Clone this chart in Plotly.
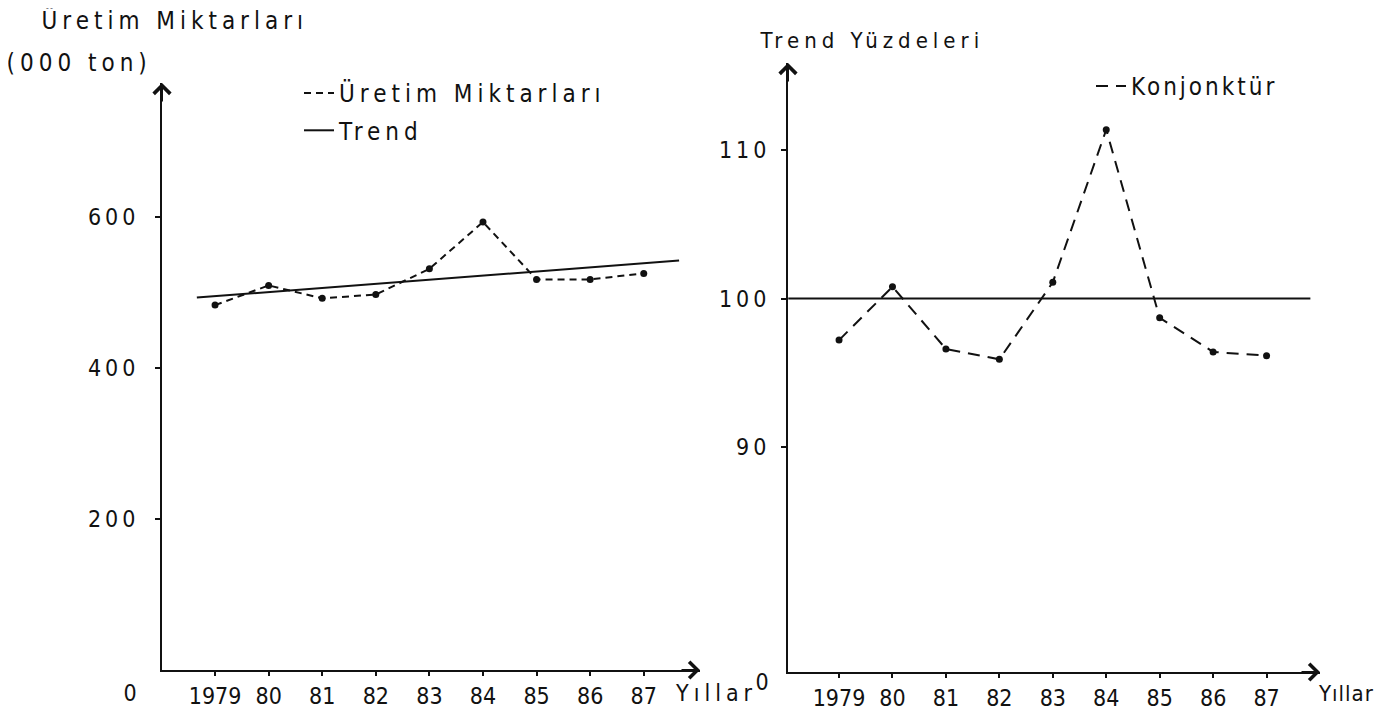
import plotly.graph_objects as go

# ---------------- data ----------------
years = [1979, 1980, 1981, 1982, 1983, 1984, 1985, 1986, 1987]
year_labels = ["1979", "80", "81", "82", "83", "84", "85", "86", "87"]

uretim = [483, 509, 492, 497, 531, 593, 517, 517, 525]   # 000 ton
trend_x = [1978.66, 1987.66]
trend_y = [493, 542]

konjonktur = [97.2, 100.8, 96.6, 95.9, 101.1, 111.4, 98.7, 96.4, 96.15]  # % of trend
base_x = [1978.05, 1987.82]
base_y = [100, 100]

left_yticks = [200, 400, 600]
right_yticks = [90, 100, 110]

# ---------------- layout helpers ----------------
# the page body has an 8px margin, so the figure is placed 8px in
OFF = 8
W, H = 1385 - OFF, 721 - OFF
FONT = "Liberation Sans Narrow, DejaVu Sans Condensed, Roboto Condensed, Roboto, sans-serif"
BLACK = "#111111"


def px(x):
    return (x - OFF) / W


def py(y):
    return 1 - (y - OFF) / H


L_XR = [1978.01, 1988.05]
L_YR = [0, 777]
R_XR = [1978.045, 1988.0]
R_YR = [74.8, 115.9]

fig = go.Figure()

# left chart
fig.add_trace(go.Scatter(
    x=years, y=uretim, mode="lines+markers", xaxis="x", yaxis="y",
    line=dict(color=BLACK, width=2, dash="7px,5px"),
    marker=dict(color=BLACK, size=7), showlegend=False))
fig.add_trace(go.Scatter(
    x=trend_x, y=trend_y, mode="lines", xaxis="x", yaxis="y",
    line=dict(color=BLACK, width=2), showlegend=False))
# legend entries (left)
fig.add_trace(go.Scatter(
    x=[None], y=[None], mode="lines", name="Üretim Miktarları", xaxis="x", yaxis="y",
    line=dict(color=BLACK, width=2, dash="7px,5px"), legend="legend", legendgroup="a"))
fig.add_trace(go.Scatter(
    x=[None], y=[None], mode="lines", name="Trend", xaxis="x", yaxis="y",
    line=dict(color=BLACK, width=2), legend="legend", legendgroup="b"))

# right chart
fig.add_trace(go.Scatter(
    x=years, y=konjonktur, mode="lines+markers", xaxis="x2", yaxis="y2",
    line=dict(color=BLACK, width=2, dash="12px,8px"),
    marker=dict(color=BLACK, size=7), showlegend=False))
fig.add_trace(go.Scatter(
    x=base_x, y=base_y, mode="lines", xaxis="x2", yaxis="y2",
    line=dict(color=BLACK, width=2), showlegend=False))
fig.add_trace(go.Scatter(
    x=[None], y=[None], mode="lines", name="Konjonktür", xaxis="x2", yaxis="y2",
    line=dict(color=BLACK, width=2, dash="12px,8px"), legend="legend2"))

tickfont = dict(family=FONT, size=23, color=BLACK)
axis_common = dict(showline=True, linecolor=BLACK, linewidth=2, showgrid=False,
                   zeroline=False, ticks="outside", tickcolor=BLACK, tickfont=tickfont)

fig.update_layout(
    width=W, height=H, margin=dict(l=0, r=0, t=0, b=0),
    paper_bgcolor="white", plot_bgcolor="white",
    font=dict(family=FONT, size=22, color=BLACK),
    xaxis=dict(domain=[px(162), px(700)], range=L_XR, anchor="y",
               tickvals=years, ticktext=year_labels, ticklen=4, tickwidth=1.5,
               **axis_common),
    yaxis=dict(domain=[py(670), py(83)], range=L_YR, anchor="x",
               tickvals=left_yticks, ticklen=5, tickwidth=1.5, ticklabelstandoff=11,
               **axis_common),
    xaxis2=dict(domain=[px(788), px(1320)], range=R_XR, anchor="y2",
                tickvals=years, ticktext=year_labels, ticklen=4, tickwidth=1.5,
                **axis_common),
    yaxis2=dict(domain=[py(672), py(63)], range=R_YR, anchor="x2",
                tickvals=right_yticks, ticklen=5, tickwidth=1.5, ticklabelstandoff=6,
                **axis_common),
    legend=dict(x=px(299), y=py(71), xanchor="left", yanchor="top",
                bgcolor="rgba(0,0,0,0)", font=dict(family=FONT, size=24, color=BLACK),
                tracegroupgap=3, itemwidth=30),
    legend2=dict(x=px(1091), y=py(64), xanchor="left", yanchor="top",
                 bgcolor="rgba(0,0,0,0)", font=dict(family=FONT, size=24, color=BLACK),
                 itemwidth=30),
    showlegend=True,
)

ann = []
arrow = dict(text="", showarrow=True, arrowhead=4, arrowsize=1.6, arrowwidth=2,
             arrowcolor=BLACK)
# axis arrows (indices 0-3)
ann.append(dict(x=L_XR[1], y=L_YR[0], xref="x", yref="y", ax=-20, ay=0, **arrow))
ann.append(dict(x=L_XR[0], y=L_YR[1], xref="x", yref="y", ax=0, ay=20, **arrow))
ann.append(dict(x=R_XR[1], y=R_YR[0], xref="x2", yref="y2", ax=-20, ay=0, **arrow))
ann.append(dict(x=R_XR[0], y=R_YR[1], xref="x2", yref="y2", ax=0, ay=20, **arrow))
# origin labels (4, 5)
ann.append(dict(x=L_XR[0], y=L_YR[0], xref="x", yref="y", text="0", showarrow=False,
                xanchor="center", yanchor="middle", xshift=-30, yshift=-23,
                font=dict(family=FONT, size=23, color=BLACK)))
ann.append(dict(x=R_XR[0], y=R_YR[0], xref="x2", yref="y2", text="0", showarrow=False,
                xanchor="center", yanchor="middle", xshift=-23, yshift=-10,
                font=dict(family=FONT, size=23, color=BLACK)))
# "Yıllar" (6, 7) - centre anchored so the letter spacing spreads evenly
ann.append(dict(x=L_XR[1], y=L_YR[0], xref="x", yref="y", text="Yıllar", showarrow=False,
                xanchor="center", yanchor="middle", xshift=16, yshift=-23,
                font=dict(family=FONT, size=23, color=BLACK)))
ann.append(dict(x=R_XR[1], y=R_YR[0], xref="x2", yref="y2", text="Yıllar", showarrow=False,
                xanchor="center", yanchor="middle", xshift=26, yshift=-21,
                font=dict(family=FONT, size=22, color=BLACK)))
# axis titles
ann.append(dict(x=px(175), y=py(20), xref="paper", yref="paper", text="Üretim Miktarları",
                showarrow=False, xanchor="center", yanchor="middle",
                font=dict(family=FONT, size=24, color=BLACK)))
ann.append(dict(x=px(79), y=py(63), xref="paper", yref="paper", text="(000 ton)",
                showarrow=False, xanchor="center", yanchor="middle",
                font=dict(family=FONT, size=24, color=BLACK)))
ann.append(dict(x=px(872), y=py(40), xref="paper", yref="paper", text="Trend Yüzdeleri",
                showarrow=False, xanchor="center", yanchor="middle",
                font=dict(family=FONT, size=22, color=BLACK)))
fig.update_layout(annotations=ann)

# wide letter spacing, like the plotter lettering of the original (CSS, so it
# also applies to anything plotly redraws later)
post = """
var css = [
  '.annotation-text, .legendtext { letter-spacing: 5px; }',
  '.legend2text { letter-spacing: 3px; }',
  '.annotation[data-index="7"] .annotation-text { letter-spacing: 1px; }',
  '.yaxislayer-above text { letter-spacing: 4px; }',
  '.scrollbox { clip-path: none !important; }'
].join('\\n');
var s = document.createElement('style');
s.textContent = css;
document.head.appendChild(s);
"""

fig.write_html("out.html", post_script=post)
